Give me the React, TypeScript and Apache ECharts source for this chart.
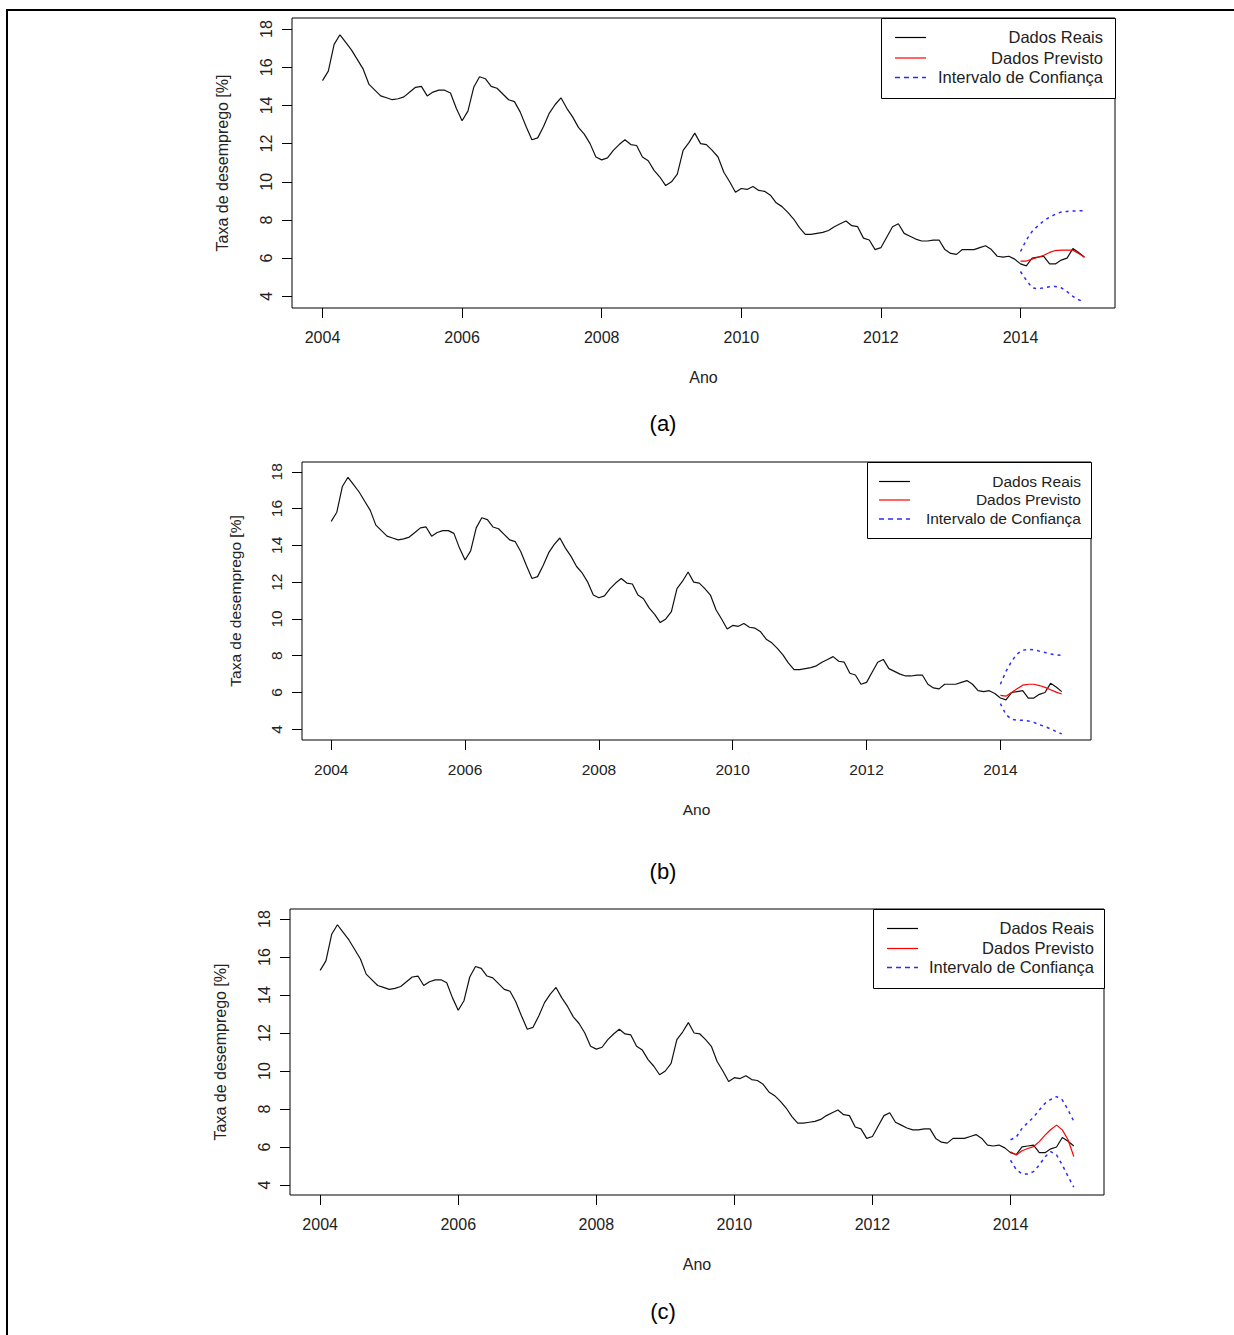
import React, { useEffect, useRef } from "react";
import * as echarts from "echarts";

// Monthly unemployment rate (%), Jan 2004 .. Dec 2014
const OBS_START = 2004;
const observed = [
  15.3, 15.8, 17.2, 17.7, 17.3, 16.9, 16.4, 15.9, 15.1, 14.8, 14.5, 14.4,
  14.3, 14.35, 14.45, 14.7, 14.95, 15.0, 14.5, 14.7, 14.8, 14.8, 14.65, 13.85,
  13.2, 13.7, 14.95, 15.5, 15.4, 15.0, 14.9, 14.6, 14.3, 14.2, 13.65, 12.9,
  12.2, 12.3, 12.9, 13.6, 14.05, 14.4, 13.85, 13.4, 12.85, 12.5, 12.0, 11.3,
  11.15, 11.25, 11.65, 11.95, 12.2, 11.95, 11.9, 11.3, 11.1, 10.6, 10.25, 9.8,
  10.0, 10.4, 11.65, 12.05, 12.55, 12.0, 11.95, 11.65, 11.3, 10.5, 10.0, 9.45,
  9.65, 9.6, 9.75, 9.55, 9.5, 9.3, 8.9, 8.7, 8.4, 8.05, 7.6, 7.25,
  7.25, 7.3, 7.35, 7.45, 7.65, 7.8, 7.95, 7.7, 7.65, 7.05, 6.95, 6.45,
  6.55, 7.1, 7.65, 7.8, 7.3, 7.15, 7.0, 6.9, 6.9, 6.95, 6.95, 6.45,
  6.25, 6.2, 6.45, 6.45, 6.45, 6.55, 6.65, 6.45, 6.1, 6.05, 6.1, 5.95,
  5.7, 5.6, 6.0, 6.05, 6.1, 5.7, 5.7, 5.9, 6.0, 6.5, 6.3, 6.05,
];

// Forecasts for Jan..Dec 2014 from the three models
const FC_START = 2014;
const forecastA = [5.85, 5.85, 5.95, 6.05, 6.15, 6.3, 6.4, 6.42, 6.42, 6.42, 6.25, 6.05];
const upperA = [6.35, 6.95, 7.4, 7.7, 7.95, 8.15, 8.3, 8.42, 8.45, 8.47, 8.48, 8.48];
const lowerA = [5.3, 4.85, 4.45, 4.4, 4.45, 4.5, 4.52, 4.45, 4.25, 4.0, 3.82, 3.7];

const forecastB = [5.85, 5.8, 6.0, 6.2, 6.4, 6.45, 6.45, 6.38, 6.28, 6.15, 6.02, 5.92];
const upperB = [6.45, 7.15, 7.7, 8.1, 8.3, 8.35, 8.32, 8.25, 8.18, 8.1, 8.05, 8.02];
const lowerB = [5.4, 4.8, 4.55, 4.5, 4.5, 4.45, 4.38, 4.25, 4.15, 4.02, 3.88, 3.75];

const forecastC = [5.75, 5.58, 5.8, 5.92, 6.02, 6.28, 6.62, 6.92, 7.15, 6.9, 6.38, 5.5];
const upperC = [6.38, 6.52, 6.98, 7.28, 7.56, 7.95, 8.3, 8.5, 8.65, 8.48, 7.95, 7.35];
const lowerC = [5.3, 4.8, 4.58, 4.58, 4.7, 5.05, 5.48, 5.75, 5.58, 5.05, 4.45, 3.88];

const yearTicks = [2004, 2006, 2008, 2010, 2012, 2014];
const rateTicks = [4, 6, 8, 10, 12, 14, 16, 18];

const legendNames = ["Dados Reais", "Dados Previsto", "Intervalo de Confiança"];
const captions = ["(a)", "(b)", "(c)"];

const X_MIN = 2003.563;
const X_MAX = 2015.354;

const FONT = "'Liberation Sans', Arial, sans-serif";
const TEXT = "#222";
const BLUE = "#2b2bff";

const panels = [
  {
    forecast: forecastA, upper: upperA, lower: lowerA,
    grid: { left: 292, top: 18, width: 823, height: 290 },
    yMin: 3.39, yMax: 18.58, font: 16,
    legend: { x1: 881, y1: 18, x2: 1115, y2: 98, lx1: 895, lx2: 926, tx: 1103, rows: [37, 57.5, 77], font: 16.5 },
    caption: { x: 663, y: 423 },
  },
  {
    forecast: forecastB, upper: upperB, lower: lowerB,
    grid: { left: 302, top: 462, width: 789, height: 278 },
    yMin: 3.42, yMax: 18.53, font: 15.5,
    legend: { x1: 867, y1: 462, x2: 1091, y2: 538, lx1: 879, lx2: 910, tx: 1081, rows: [481, 499.5, 518.5], font: 15.5 },
    caption: { x: 663, y: 871 },
  },
  {
    forecast: forecastC, upper: upperC, lower: lowerC,
    grid: { left: 290, top: 909, width: 814, height: 286 },
    yMin: 3.47, yMax: 18.53, font: 16,
    legend: { x1: 873, y1: 909, x2: 1104, y2: 988, lx1: 887, lx2: 918, tx: 1094, rows: [928, 948, 967], font: 16.5 },
    caption: { x: 663, y: 1311 },
  },
];

const toPairs = (start: number, values: number[]) =>
  values.map((v, i) => [start + i / 12, v]);

const plainNumber = (v: number) => String(Math.round(v));

export default function App() {
  const ref = useRef<HTMLDivElement>(null);

  useEffect(() => {
    if (!ref.current) return;
    const chart = echarts.init(ref.current, null, { renderer: "svg" });

    const grids = panels.map((p) => ({
      ...p.grid,
      show: true,
      borderColor: "#000",
      borderWidth: 1,
      backgroundColor: "transparent",
      containLabel: false,
    }));

    const xAxes = panels.map((p, k) => ({
      gridIndex: k,
      type: "value",
      min: X_MIN,
      max: X_MAX,
      splitLine: { show: false },
      axisLine: { show: false },
      axisTick: { show: true, inside: false, length: 10, customValues: yearTicks, lineStyle: { color: "#000", width: 1 } },
      axisLabel: { customValues: yearTicks, formatter: plainNumber, margin: 21, fontSize: p.font, color: TEXT, fontFamily: FONT },
      name: "Ano",
      nameLocation: "middle",
      nameGap: 61,
      nameTextStyle: { fontSize: p.font, color: TEXT, fontFamily: FONT },
    }));

    const yAxes = panels.map((p, k) => ({
      gridIndex: k,
      type: "value",
      min: p.yMin,
      max: p.yMax,
      splitLine: { show: false },
      axisLine: { show: false },
      axisTick: { show: true, inside: false, length: 10, customValues: rateTicks, lineStyle: { color: "#000", width: 1 } },
      axisLabel: { customValues: rateTicks, formatter: plainNumber, rotate: 90, margin: 18, fontSize: p.font, color: TEXT, fontFamily: FONT },
      name: "Taxa de desemprego [%]",
      nameLocation: "middle",
      nameRotate: 90,
      nameGap: k === 1 ? 59 : 62,
      nameTextStyle: { fontSize: p.font, color: TEXT, fontFamily: FONT },
    }));

    const series: any[] = [];
    panels.forEach((p, k) => {
      const common = { type: "line", xAxisIndex: k, yAxisIndex: k, showSymbol: false, symbol: "none", silent: true };
      series.push({ ...common, name: legendNames[0], data: toPairs(OBS_START, observed), lineStyle: { color: "#111", width: 1.2 }, z: 3 });
      series.push({ ...common, name: legendNames[1], data: toPairs(FC_START, p.forecast), lineStyle: { color: "#ff0000", width: 1.2 }, z: 4 });
      series.push({ ...common, name: legendNames[2] + " sup", data: toPairs(FC_START, p.upper), lineStyle: { color: BLUE, width: 1.5, type: [3, 4] }, z: 2 });
      series.push({ ...common, name: legendNames[2] + " inf", data: toPairs(FC_START, p.lower), lineStyle: { color: BLUE, width: 1.5, type: [3, 4] }, z: 2 });
    });

    const graphic: any[] = [
      {
        type: "rect",
        shape: { x: 7, y: 10, width: 1240, height: 1340 },
        style: { fill: "none", stroke: "#000", lineWidth: 2 },
        silent: true,
      },
    ];

    panels.forEach((p) => {
      const L = p.legend;
      graphic.push({
        type: "rect",
        shape: { x: L.x1 + 0.5, y: L.y1 + 0.5, width: L.x2 - L.x1, height: L.y2 - L.y1 },
        style: { fill: "#fff", stroke: "#000", lineWidth: 1 },
        z: 10,
      });
      // legend keys: solid black, solid red, dashed blue
      graphic.push({
        type: "line",
        shape: { x1: L.lx1, y1: L.rows[0] + 0.5, x2: L.lx2, y2: L.rows[0] + 0.5 },
        style: { stroke: "#000", lineWidth: 1.2 },
        z: 11,
      });
      graphic.push({
        type: "line",
        shape: { x1: L.lx1, y1: L.rows[1] + 0.5, x2: L.lx2, y2: L.rows[1] + 0.5 },
        style: { stroke: "#ff0000", lineWidth: 1.2 },
        z: 11,
      });
      graphic.push({
        type: "line",
        shape: { x1: L.lx1, y1: L.rows[2] + 0.5, x2: L.lx2, y2: L.rows[2] + 0.5 },
        style: { stroke: BLUE, lineWidth: 1.4, lineDash: [5, 4] },
        z: 11,
      });
      legendNames.forEach((name, r) => {
        graphic.push({
          type: "text",
          x: L.tx,
          y: L.rows[r],
          style: {
            text: name,
            fontSize: L.font,
            fontFamily: FONT,
            fill: TEXT,
            textAlign: "right",
            textVerticalAlign: "middle",
          },
          z: 11,
        });
      });
    });

    panels.forEach((p, k) => {
      graphic.push({
        type: "text",
        x: p.caption.x,
        y: p.caption.y,
        style: {
          text: captions[k],
          fontSize: 22,
          fontFamily: FONT,
          fill: "#000",
          textAlign: "center",
          textVerticalAlign: "middle",
        },
      });
    });

    chart.setOption({
      animation: false,
      backgroundColor: "#fff",
      grid: grids,
      xAxis: xAxes,
      yAxis: yAxes,
      series,
      graphic,
    });

    return () => chart.dispose();
  }, []);

  return (
    <div
      ref={ref}
      style={{ position: "absolute", left: 0, top: 0, width: 1234, height: 1335 }}
    />
  );
}
